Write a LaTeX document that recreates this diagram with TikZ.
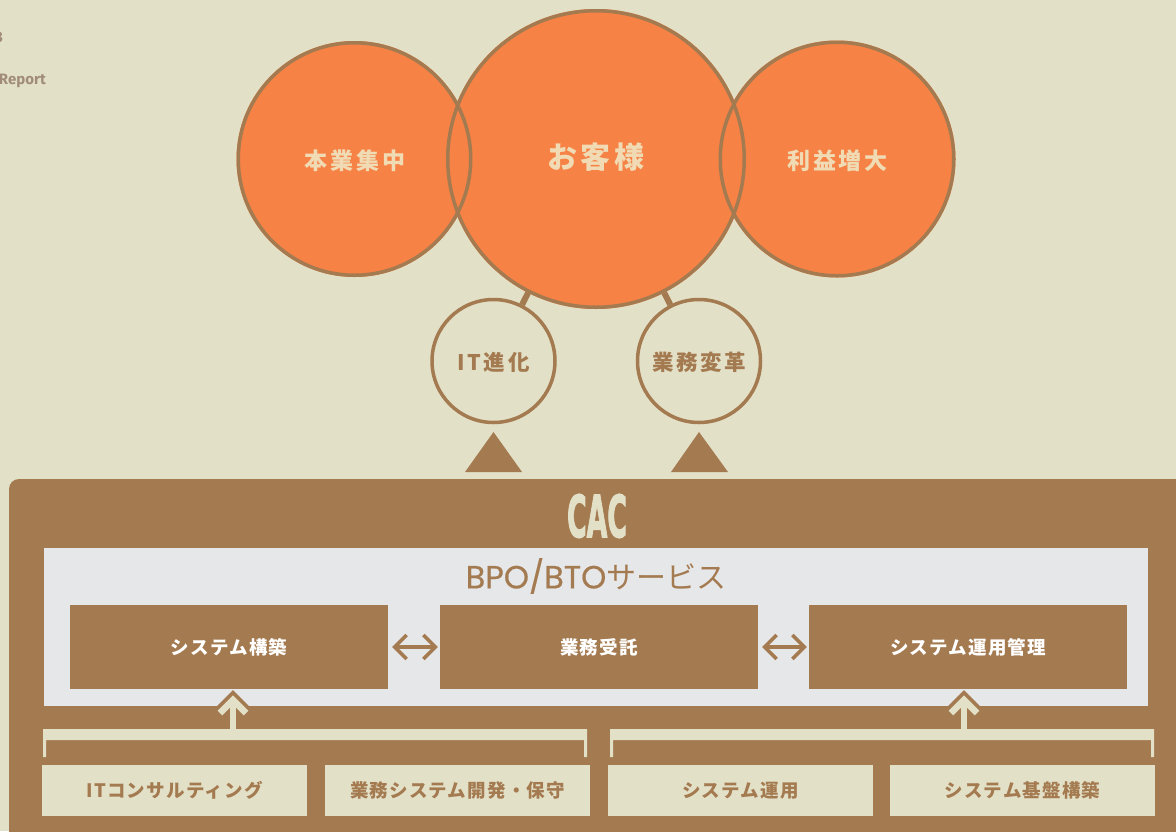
\documentclass[tikz,border=0pt]{standalone}
\usepackage{fontspec}
\usetikzlibrary{arrows.meta}
\newfontfamily\jpfont{Noto Sans CJK JP}
\newfontfamily\jpwide[LetterSpace=12]{Noto Sans CJK JP}
\newfontfamily\jpmid[LetterSpace=6.5]{Noto Sans CJK JP}
\newfontfamily\latinfont{Fira Sans}
\newfontfamily\titlefont[FakeBold=0.5]{Poppins}
\newfontfamily\logofont[FakeBold=2.5]{DejaVu Sans}
\definecolor{paper}{HTML}{E3E0C8}
\definecolor{tangerine}{HTML}{F68245}
\definecolor{umber}{HTML}{A47A50}
\definecolor{mist}{HTML}{E6E7E9}
\definecolor{cream}{HTML}{F0DBB4}
\definecolor{faded}{HTML}{A08C78}
\newcommand{\nudged}[2]{\raisebox{#1}[\dimexpr\height-#1\relax][\dimexpr\depth+#1\relax]{#2}}
\begin{document}
\begin{tikzpicture}
                [x=1pt, y=-1pt,
                orangefill/.style={circle, fill=tangerine, inner sep=0pt, text=cream, font=\jpwide\bfseries\fontsize{23}{27}\selectfont},
                orangering/.style={circle, draw=umber, line width=3.5pt, inner sep=0pt},
                smallring/.style={circle, draw=umber, line width=3.5pt, minimum size=123pt, inner sep=0pt, text=umber, font=\jpwide\bfseries\fontsize{21.5}{25}\selectfont},
                link/.style={draw=umber, line width=6pt},
                servicebox/.style={fill=umber, minimum width=318pt, minimum height=84pt, inner sep=0pt, text=white, font=\jpmid\bfseries\fontsize{18.5}{22}\selectfont},
                basebox/.style={fill=paper, minimum width=265pt, minimum height=51pt, inner sep=0pt, text=umber, font=\jpmid\bfseries\fontsize{18.5}{22}\selectfont},
                twoway/.style={draw=umber, line width=3.5pt, {Straight Barb[length=12pt,width=24pt]}-{Straight Barb[length=12pt,width=24pt]}, shorten <=4pt, shorten >=2pt},
                uphalo/.style={draw=umber, line width=14pt, miter limit=4},
                upline/.style={draw=paper, line width=6.5pt, miter limit=4}]
                \useasboundingbox (0,0) rectangle (1176,831);
                \fill[paper] (0,0) rectangle (1176,831);
                % Define side texts
                \node[anchor=east, text=faded, inner sep=0pt, font=\latinfont\bfseries\fontsize{15}{18}\selectfont] (year) at (3,37) {3};
                \node[anchor=east, text=faded, inner sep=0pt, font=\latinfont\bfseries\fontsize{15}{18}\selectfont] (report) at (46,81) {Report};
                % Define circles
                \node[orangefill, minimum size=236pt] (focus) at (354.5,159) {\hspace{1pt}\nudged{-0.7pt}{本業集中}};
                \node[orangefill, minimum size=237pt] (profit) at (837,159) {\hspace{1pt}\nudged{-0.7pt}{利益増大}};
                \node[orangefill, minimum size=300pt, font=\jpwide\bfseries\fontsize{30}{34}\selectfont] (client) at (596,159) {\nudged{1pt}{お客様}};
                \node[orangering, minimum size=232.5pt] (focusring) at (354.5,159) {};
                \node[orangering, minimum size=233.5pt] (profitring) at (837,159) {};
                \node[orangering, minimum size=296.5pt] (clientring) at (596,159) {};
                \node[smallring] (itchange) at (493.5,361) {\nudged{-0.5pt}{IT進化}};
                \node[smallring] (bizchange) at (699,361) {\nudged{-0.5pt}{業務変革}};
                \draw[link] (itchange) -- (clientring);
                \draw[link] (bizchange) -- (clientring);
                \fill[umber] (493.5,432) -- (522,472) -- (465,472) -- cycle;
                \fill[umber] (699,432) -- (728,472) -- (671,472) -- cycle;
                % Define panel
                \fill[umber, rounded corners=10pt] (9,479) rectangle (1200,860);
                \node[text=paper, inner sep=0pt, font=\logofont\bfseries\fontsize{58}{62}\selectfont, xscale=0.46] (logo) at (597,516) {CAC};
                \fill[mist] (44,548) rectangle (1148,706);
                \node[text=umber, inner sep=0pt, font=\jpfont\fontsize{30}{34}\selectfont] (title) at (596,576) {{\titlefont\fontsize{32}{34}\selectfont BPO/BTO}サービス};
                % Define boxes
                \node[servicebox] (build) at (229,647) {システム構築};
                \node[servicebox] (outsource) at (599,647) {業務受託};
                \node[servicebox] (operate) at (968,647) {システム運用管理};
                \node[basebox] (consult) at (174.5,790.5) {ITコンサルティング};
                \node[basebox] (develop) at (457.5,790.5) {業務システム開発・保守};
                \node[basebox] (sysrun) at (740.5,790.5) {システム運用};
                \node[basebox] (infra) at (1022.5,790.5) {システム基盤構築};
                % Define edges
                \draw[twoway] (build) -- (outsource);
                \draw[twoway] (outsource) -- (operate);
                \coordinate (leftjoin) at (233,730);
                \coordinate (lefttip) at (233,700);
                \coordinate (rightjoin) at (964,730);
                \coordinate (righttip) at (964,700);
                \draw[uphalo] (lefttip) ++(-13,13) -- (lefttip) -- ++(13,13);
                \draw[upline] (leftjoin) -- (lefttip);
                \draw[upline] (lefttip) ++(-13,13) -- (lefttip) -- ++(13,13);
                \draw[uphalo] (righttip) ++(-13,13) -- (righttip) -- ++(13,13);
                \draw[upline] (rightjoin) -- (righttip);
                \draw[upline] (righttip) ++(-13,13) -- (righttip) -- ++(13,13);
                \fill[paper] (43,729) -- (587,729) -- (587,757) -- (584,757) -- (584,740) -- (46,740) -- (46,757) -- (43,757) -- cycle;
                \fill[paper] (610,729) -- (1154,729) -- (1154,757) -- (1151,757) -- (1151,740) -- (613,740) -- (613,757) -- (610,757) -- cycle;
            \end{tikzpicture}
\end{document}
